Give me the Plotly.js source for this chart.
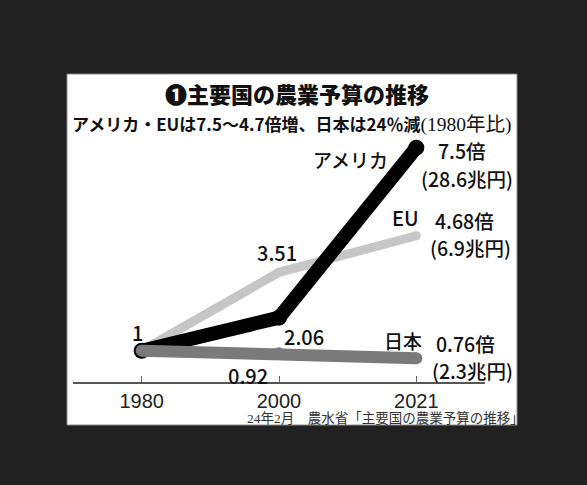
<!DOCTYPE html>
<html><head><meta charset="utf-8">
<script src="https://cdn.plot.ly/plotly-3.0.1.min.js"></script>
<style>html,body{margin:0;padding:0;background:#212121;}</style>
</head><body><div id="chart" style="width:587px;height:485px;"></div>
<script>
const years = ['1980', '2000', '2021'];
const usa = [1, 2.06, 7.5];
const eu = [1, 3.51, 4.68];
const japan = [1, 0.92, 0.76];
const endLabelUSA = ['7.5倍', '(28.6兆円)'];
const endLabelEU = ['4.68倍', '(6.9兆円)'];
const endLabelJP = ['0.76倍', '(2.3兆円)'];
const titleText = '❶主要国の農業予算の推移';
const subtitleMain = 'アメリカ・EUは7.5～4.7倍増、日本は24％減';
const subtitleNote = '(1980年比)';
const sourceText = '24年2月　農水省「主要国の農業予算の推移」';

const F = '"Noto Sans CJK JP", "Noto Sans", sans-serif';
const SERIF = '"Liberation Serif", "DejaVu Serif", "Noto Sans CJK JP", serif';
const TXT = '#111111';

const traces = [
  {x: years, y: eu, mode: 'lines+markers', line: {color: '#c6c6c6', width: 9},
   marker: {color: '#c6c6c6', size: 9}, hoverinfo: 'skip'},
  {x: years, y: usa, mode: 'lines+markers', line: {color: '#000000', width: 14},
   marker: {color: '#000000', size: 16}, hoverinfo: 'skip'},
  {x: years, y: japan, mode: 'lines+markers', line: {color: '#7a7a7a', width: 12},
   marker: {color: '#7a7a7a', size: 12}, hoverinfo: 'skip'}
];

// x given as category index (0,1,2) of the years array
function lab(text, i, y, xs, ys, size) {
  return {text: text, x: i, y: y, xref: 'x', yref: 'y', xshift: xs, yshift: ys,
    showarrow: false, xanchor: 'center', yanchor: 'middle',
    font: {family: F, size: size || 20, color: TXT, weight: 500}};
}
const last = years.length - 1;

const annotations = [
  lab(String(usa[0]), 0, usa[0], -4, 18),
  lab(eu[1].toFixed(2), 1, eu[1], -2, 20),
  lab(usa[1].toFixed(2), 1, usa[1], 25, -19),
  lab(japan[1].toFixed(2), 1, japan[1], -31, -22),
  lab('アメリカ', last, usa[last], -66, -12, 19),
  lab(endLabelUSA[0], last, usa[last], 46, -3, 19.5),
  lab(endLabelUSA[1], last, usa[last], 51, -31, 19.5),
  lab('EU', last, eu[last], -11, 18),
  lab(endLabelEU[0], last, eu[last], 48, 15, 19.5),
  lab(endLabelEU[1], last, eu[last], 54, -12, 19.5),
  lab('日本', last, japan[last], -13, 18, 19),
  lab(endLabelJP[0], last, japan[last], 49, 15, 19.5),
  lab(endLabelJP[1], last, japan[last], 56, -12, 19.5),
  {text: subtitleMain + '<span style="font-family:' + "'Liberation Serif','Noto Sans CJK JP',serif" + ';font-size:19.5px;font-weight:400;">' + subtitleNote + '</span>',
   xref: 'paper', yref: 'paper', x: -0.0073, y: 1.036, xanchor: 'left', yanchor: 'middle',
   showarrow: false, font: {family: F, size: 17, color: TXT, weight: 700}},
  {text: sourceText, xref: 'paper', yref: 'paper', x: 1.0995, y: -0.144, xanchor: 'right', yanchor: 'middle',
   showarrow: false, font: {family: SERIF, size: 13.5, color: '#333'}}
];

const layout = {
  width: 587, height: 485,
  margin: {l: 73, r: 102, t: 132, b: 103},
  paper_bgcolor: '#212121', plot_bgcolor: '#ffffff',
  showlegend: false,
  title: {text: titleText, x: 0.506, xanchor: 'center', y: 0.804, yanchor: 'middle', xref: 'container', yref: 'container',
          font: {family: F, size: 22, color: '#111', weight: 900}},
  xaxis: {type: 'category', range: [-0.5, 2.5], showline: true, linecolor: '#555', linewidth: 1.5,
          ticks: 'inside', ticklen: 6, tickcolor: '#666', tickwidth: 1, showgrid: false, zeroline: false,
          tickfont: {family: '"Liberation Sans", Arial, sans-serif', size: 20, color: '#222'}, fixedrange: true},
  yaxis: {range: [0, 8], visible: false, fixedrange: true},
  shapes: [{type: 'rect', xref: 'paper', yref: 'paper', x0: -0.01456, x1: 1.0777, y0: -0.172, y1: 1.232,
            fillcolor: '#ffffff', line: {color: '#8a8a8a', width: 1}, layer: 'below'}],
  annotations: annotations
};

Plotly.newPlot('chart', traces, layout, {displayModeBar: false, staticPlot: true});
</script></body></html>
